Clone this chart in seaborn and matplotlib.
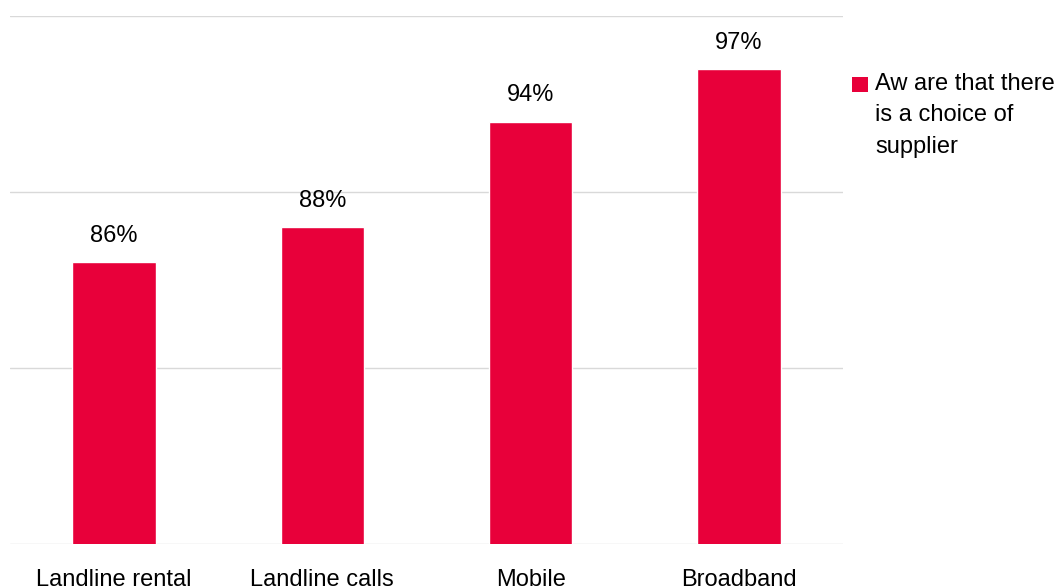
import matplotlib
matplotlib.use("Agg")
import matplotlib.pyplot as plt
import seaborn as sns
import pandas as pd
from matplotlib.patches import Rectangle

categories = ["Landline rental", "Landline calls", "Mobile", "Broadband"]
values = [86, 88, 94, 97]
series_name = "Aw are that there\nis a choice of\nsupplier"
bar_color = "#E8003A"

sns.set_theme(style="white")
plt.rcParams["font.family"] = ["Liberation Sans", "DejaVu Sans"]
plt.rcParams["text.color"] = "#000000"

df = pd.DataFrame({"category": categories, "value": values})

W, H = 1062, 587
fig = plt.figure(figsize=(W / 100, H / 100), dpi=100)
ax = fig.add_axes([10 / W, 1 - 544 / H, 833 / W, 528 / H])

sns.barplot(data=df, x="category", y="value", color=bar_color, width=0.4,
            saturation=1, ax=ax, zorder=3)

ax.set_ylim(70, 100)
ax.set_xlim(-0.5, 3.5)
ax.set_yticks([70, 80, 90, 100])
ax.yaxis.grid(True, color="#D9D9D9", linewidth=1)
ax.set_axisbelow(True)
ax.tick_params(axis="y", left=False, labelleft=False)
ax.tick_params(axis="x", bottom=False, length=0, labelsize=17,
               labelcolor="#000000", pad=18)
ax.set_xlabel("")
ax.set_ylabel("")
for s in ax.spines.values():
    s.set_visible(False)

for c in ax.containers:
    ax.bar_label(c, labels=[f"{v}%" for v in values], padding=11,
                 fontsize=17, color="#000000")

# Legend: colour swatch beside a wrapped series label
fig.patches.append(Rectangle((852 / W, 1 - 92 / H), 16 / W, 15 / H,
                             transform=fig.transFigure, facecolor=bar_color,
                             edgecolor="none"))
fig.text(875 / W, 1 - 73 / H, series_name, ha="left", va="top",
         fontsize=17, color="#000000", linespacing=1.55)

fig.savefig("out.png", dpi=100)
